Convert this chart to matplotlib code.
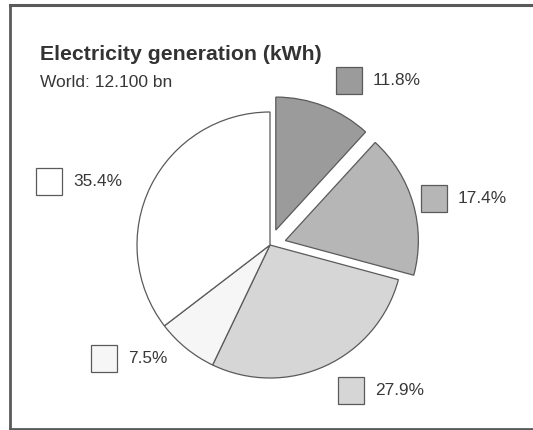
import matplotlib.pyplot as plt
from matplotlib.patches import Rectangle

plt.rcParams['font.family'] = ['Liberation Sans', 'DejaVu Sans']

# share of world electricity generation, clockwise from 12 o'clock
shares = [11.8, 17.4, 27.9, 7.5, 35.4]
labels = ['11.8%', '17.4%', '27.9%', '7.5%', '35.4%']
colors = ['#9b9b9b', '#b6b6b6', '#d6d6d6', '#f6f6f6', '#ffffff']
explode = [16, 16, 0, 0, 0]

title = 'Electricity generation (kWh)'
subtitle = 'World: 12.100 bn'

# key boxes (left, top) in pixels
key_pos = [(336, 67), (421, 185), (338, 377), (91, 345), (36, 168)]

W, H = 533, 430
edge = '#5a5a5a'
ink = '#383838'

fig = plt.figure(figsize=(W / 100, H / 100), dpi=100)
ax = fig.add_axes([0, 0, 1, 1])
ax.set_xlim(0, W)
ax.set_ylim(H, 0)
ax.axis('off')

# pie in its own axes with y pointing up so it runs clockwise
pax = fig.add_axes([0, 0, 1, 1])
pax.pie(shares, colors=colors, explode=explode, startangle=90,
        counterclock=False, center=(270, H - 245), radius=133,
        wedgeprops=dict(edgecolor=edge, linewidth=0.9), frame=True)
pax.set_xlim(0, W)
pax.set_ylim(0, H)
pax.set_aspect('auto')
pax.axis('off')

# frame around the graphic
ax.plot([10, 10], [5, 429], color=edge, lw=2)
ax.plot([10, W], [5, 5], color=edge, lw=2.2)
ax.plot([10, W], [429, 429], color=edge, lw=2)

ax.text(40, 60, title, fontsize=15.3, fontweight='bold', color='#333333',
        va='baseline', ha='left')
ax.text(40, 87, subtitle, fontsize=12.5, color=ink, va='baseline', ha='left')

for (bx, by), c, lab in zip(key_pos, colors, labels):
    ax.add_patch(Rectangle((bx, by), 26, 27, facecolor=c, edgecolor=edge, lw=0.9))
    ax.text(bx + 37, by + 13.5, lab, fontsize=12.4, color=ink, va='center', ha='left')

fig.savefig('out.png', dpi=100, facecolor='white')
